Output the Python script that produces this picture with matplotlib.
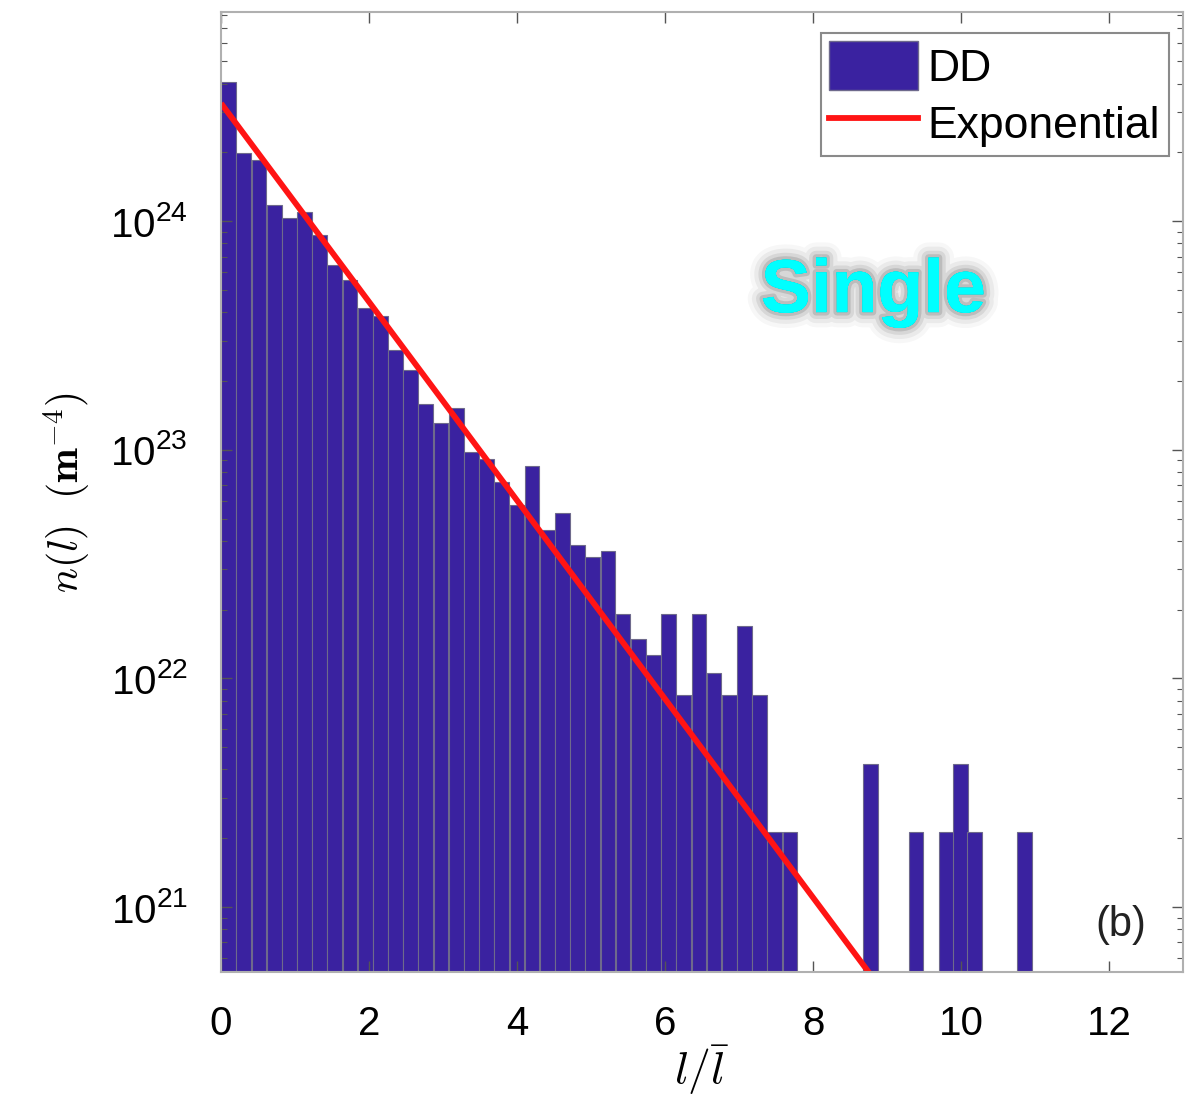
import numpy as np
import matplotlib
matplotlib.use("Agg")
import matplotlib.pyplot as plt
import matplotlib.patheffects as pe
from matplotlib.patches import Patch
from matplotlib.lines import Line2D
from matplotlib.ticker import LogLocator, LogFormatterMathtext, MultipleLocator

plt.rcParams['font.family'] = ['Liberation Sans', 'DejaVu Sans']
plt.rcParams['mathtext.fontset'] = 'custom'
plt.rcParams['mathtext.rm'] = 'Liberation Sans'
plt.rcParams['mathtext.it'] = 'Liberation Sans:italic'

# histogram: bar counts, one count = n_per_count m^-4
bin_width = 0.205
main_counts = [1915, 937, 873, 555, 487, 517, 410, 303, 261, 196,
               181, 129, 105, 75, 62, 72, 46, 43, 34, 27,
               40, 21, 25, 18, 16, 17, 9, 7, 6, 9,
               4, 9, 5, 4, 8, 4, 1, 1]
tail_centers = [8.78, 9.39, 9.80, 9.99, 10.18, 10.86]
tail_counts = [2, 1, 1, 2, 1, 1]
n_per_count = 2.12e21

# exponential fit n(l) = A exp(-l / lbar)
fit_amp = 3.28e24
fit_decay = 1.0

main_centers = (np.arange(len(main_counts)) + 0.5) * bin_width
centers = np.concatenate([main_centers, tail_centers])
values = np.array(list(main_counts) + tail_counts) * n_per_count

fig = plt.figure(figsize=(12.04, 11.03), dpi=100)
ax = fig.add_axes([0.1836, 0.1188, 0.799, 0.870])
ax.set_yscale('log')

bar_color = '#3a22a0'
edge_color = '#6e6a8c'
ax.bar(centers, values, width=bin_width * 0.97, color=bar_color,
       edgecolor=edge_color, linewidth=0.8, align='center')

xf = np.linspace(0, 13, 200)
ax.plot(xf, fit_amp * np.exp(-xf / fit_decay), color='#ff1414', lw=4.2,
        solid_capstyle='butt')

ax.set_xlim(0, 13)
ax.set_ylim(5.2e20, 8.2e24)

ax.xaxis.set_major_locator(MultipleLocator(2))
ax.yaxis.set_major_locator(LogLocator(base=10, numticks=10))
ax.yaxis.set_minor_locator(LogLocator(base=10, subs=np.arange(2, 10), numticks=20))
ax.yaxis.set_major_formatter(LogFormatterMathtext())
ax.tick_params(which='both', direction='in', top=True, right=True,
               color='#555555', labelsize=29)
ax.tick_params(axis='x', pad=24)
ax.tick_params(axis='y', pad=24)
ax.tick_params(which='major', length=8, width=1)
ax.tick_params(which='minor', length=4, width=0.8)
ax.tick_params(axis='x', which='minor', bottom=False, top=False)
for s in ax.spines.values():
    s.set_color('#b0b0b0')
    s.set_linewidth(1.5)

ax.set_xlabel(r'$l/\bar{l}$', fontsize=33, math_fontfamily='cm', labelpad=0)
ax.set_ylabel(r'$n(l)\ \ (\mathbf{m}^{-4})$', fontsize=30,
              math_fontfamily='cm', labelpad=12)

handles = [Patch(facecolor=bar_color, edgecolor=edge_color, label='DD'),
           Line2D([], [], color='#ff1414', lw=4.2, label='Exponential')]
leg = ax.legend(handles=handles, loc='upper right', fontsize=32,
                fancybox=False, framealpha=1, edgecolor='#8a8a8a',
                handlelength=2.0, handleheight=1.3, handletextpad=0.2,
                borderpad=0.2, labelspacing=0.2,
                bbox_to_anchor=(0.985, 0.979), borderaxespad=0)
leg.get_frame().set_linewidth(1.5)

ax.text(0.935, 0.049, '(b)', transform=ax.transAxes, fontsize=30,
        ha='center', va='center', color='#222222')

glow = [pe.withStroke(linewidth=22, foreground='black', alpha=0.03),
        pe.withStroke(linewidth=16, foreground='black', alpha=0.05),
        pe.withStroke(linewidth=10, foreground='black', alpha=0.08),
        pe.withStroke(linewidth=5, foreground='black', alpha=0.12),
        pe.Normal()]
ax.text(0.678, 0.708, 'Single', transform=ax.transAxes, fontsize=54,
        fontweight='bold', color='#00ffff', ha='center', va='center',
        path_effects=glow)

fig.savefig('out.png', dpi=100)
